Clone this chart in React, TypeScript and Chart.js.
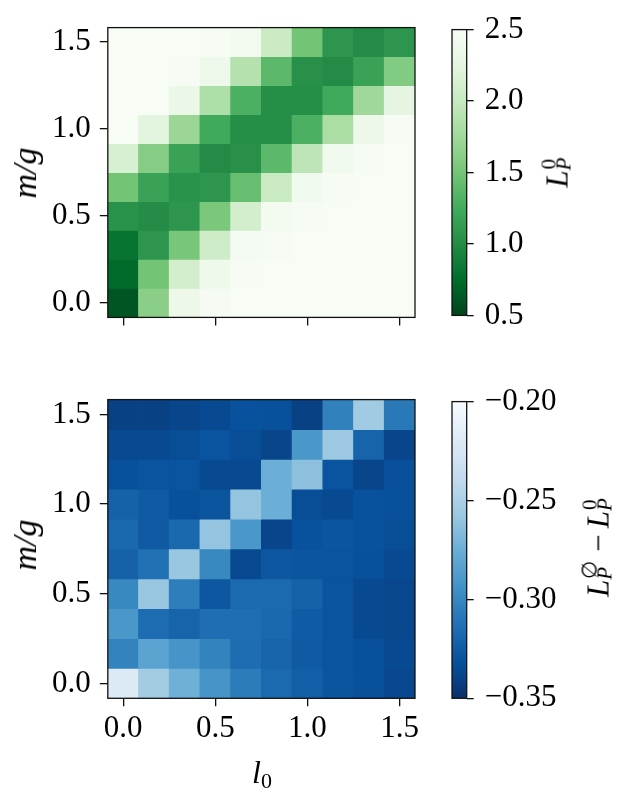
import React, { useEffect, useRef } from 'react';
import { Chart, registerables } from 'chart.js';

Chart.register(...registerables);

// ---- data ----
const l0Values = [0, 0.1667, 0.3333, 0.5, 0.6667, 0.8333, 1.0, 1.1667, 1.3333, 1.5];
const mgValues = [0, 0.1667, 0.3333, 0.5, 0.6667, 0.8333, 1.0, 1.1667, 1.3333, 1.5];
const axisTicks = [0, 0.5, 1.0, 1.5];
const lp0Ticks = [0.5, 1.0, 1.5, 2.0, 2.5];
const diffTicks = [-0.35, -0.3, -0.25, -0.2];

// rows: index 0 = m/g 0.0 (bottom) ... index 9 = m/g 1.5 (top); columns follow l0Values
const lp0Rows = [
  [0.61, 1.62, 2.36, 2.47, 2.5, 2.5, 2.5, 2.5, 2.5, 2.5],
  [0.74, 1.5, 2.1, 2.38, 2.48, 2.5, 2.5, 2.5, 2.5, 2.5],
  [0.81, 1.08, 1.52, 2.06, 2.46, 2.49, 2.5, 2.5, 2.5, 2.5],
  [1.06, 1.01, 1.08, 1.54, 2.1, 2.44, 2.49, 2.5, 2.5, 2.5],
  [1.5, 1.18, 1.06, 1.08, 1.44, 2.02, 2.42, 2.49, 2.5, 2.5],
  [2.14, 1.6, 1.18, 1.0, 1.04, 1.38, 1.94, 2.4, 2.49, 2.5],
  [2.5, 2.24, 1.72, 1.24, 1.02, 1.02, 1.3, 1.82, 2.36, 2.49],
  [2.5, 2.5, 2.34, 1.84, 1.3, 1.02, 1.02, 1.24, 1.74, 2.26],
  [2.5, 2.5, 2.49, 2.38, 1.88, 1.38, 1.04, 1.0, 1.18, 1.58],
  [2.5, 2.5, 2.5, 2.49, 2.45, 2.04, 1.5, 1.08, 1.0, 1.08],
];

const diffRows = [
  [-0.22, -0.254, -0.2735, -0.2915, -0.3065, -0.317, -0.323, -0.329, -0.332, -0.337],
  [-0.302, -0.2825, -0.2915, -0.302, -0.315, -0.32, -0.326, -0.33, -0.332, -0.335],
  [-0.29, -0.315, -0.32, -0.314, -0.314, -0.318, -0.325, -0.33, -0.335, -0.337],
  [-0.299, -0.258, -0.305, -0.328, -0.317, -0.317, -0.3215, -0.33, -0.335, -0.337],
  [-0.3215, -0.3125, -0.258, -0.299, -0.335, -0.328, -0.329, -0.33, -0.332, -0.335],
  [-0.318, -0.326, -0.318, -0.26, -0.29, -0.338, -0.331, -0.329, -0.331, -0.333],
  [-0.3215, -0.326, -0.332, -0.329, -0.26, -0.275, -0.333, -0.335, -0.331, -0.332],
  [-0.332, -0.33, -0.33, -0.335, -0.335, -0.275, -0.263, -0.33, -0.338, -0.332],
  [-0.335, -0.335, -0.333, -0.33, -0.333, -0.338, -0.29, -0.257, -0.32, -0.338],
  [-0.34, -0.34, -0.338, -0.335, -0.331, -0.332, -0.34, -0.3035, -0.2555, -0.308],
];

const GREENS = ['#f7fcf5', '#e5f5e0', '#c7e9c0', '#a1d99b', '#74c476', '#41ab5d', '#238b45', '#006d2c', '#00441b'];
const BLUES = ['#f7fbff', '#deebf7', '#c6dbef', '#9ecae1', '#6baed6', '#4292c6', '#2171b5', '#08519c', '#08306b'];

const FONT = "'Liberation Serif', 'Times New Roman', serif";
const FS = 31;

// reversed colormap: low value -> dark end
function makeColor(stops: string[], vmin: number, vmax: number) {
  const rgb = stops.map((h) => [parseInt(h.slice(1, 3), 16), parseInt(h.slice(3, 5), 16), parseInt(h.slice(5, 7), 16)]);
  return (v: number) => {
    let d = 1 - (v - vmin) / (vmax - vmin);
    d = Math.max(0, Math.min(1, d));
    const p = d * (rgb.length - 1);
    const i = Math.min(rgb.length - 2, Math.floor(p));
    const f = p - i;
    const c = rgb[i].map((a, k) => Math.round(a + (rgb[i + 1][k] - a) * f));
    return `rgb(${c[0]},${c[1]},${c[2]})`;
  };
}

const framePlugin = {
  id: 'frame',
  afterDraw(chart: any) {
    const { ctx, chartArea: a } = chart;
    ctx.save();
    ctx.strokeStyle = '#111';
    ctx.lineWidth = 1.3;
    ctx.strokeRect(a.left, a.top, a.right - a.left, a.bottom - a.top);
    ctx.restore();
  },
};

const tickGrid = (len: number) => ({
  display: true,
  drawOnChartArea: false,
  drawTicks: true,
  tickLength: len,
  color: '#111',
  lineWidth: 1.3,
  offset: false,
});

function heatConfig(
  rows: number[][],
  colorFn: (v: number) => string,
  padTop: number,
  padRight: number,
  leftWidth: number,
  bottomHeight: number,
  showXLabels: boolean
): any {
  const halfX = (l0Values[1] - l0Values[0]) / 2;
  const halfY = (mgValues[1] - mgValues[0]) / 2;
  const data: any[] = [];
  const colors: string[] = [];
  rows.forEach((row, j) =>
    row.forEach((v, i) => {
      data.push({ x: l0Values[i], y: [mgValues[j] - halfY, mgValues[j] + halfY] });
      colors.push(colorFn(v));
    })
  );
  return {
    type: 'bar',
    data: {
      datasets: [
        {
          data,
          backgroundColor: colors,
          borderWidth: 0,
          barPercentage: 1,
          categoryPercentage: 1,
          inflateAmount: 0.4,
        },
      ],
    },
    options: {
      animation: false,
      responsive: false,
      maintainAspectRatio: false,
      plugins: { legend: { display: false }, tooltip: { enabled: false } },
      layout: { padding: { top: padTop, right: padRight, left: 0, bottom: 0 } },
      scales: {
        x: {
          type: 'linear',
          min: l0Values[0] - halfX,
          max: l0Values[l0Values.length - 1] + halfX,
          offset: false,
          afterBuildTicks: (s: any) => {
            s.ticks = axisTicks.map((value) => ({ value }));
          },
          afterFit: (s: any) => {
            s.height = bottomHeight;
          },
          grid: tickGrid(8),
          border: { display: false },
          ticks: {
            display: showXLabels,
            autoSkip: false,
            maxRotation: 0,
            padding: 4,
            color: '#000',
            font: { family: FONT, size: FS },
            callback: (v: any) => Number(v).toFixed(1),
          },
        },
        y: {
          type: 'linear',
          min: mgValues[0] - halfY,
          max: mgValues[mgValues.length - 1] + halfY,
          afterBuildTicks: (s: any) => {
            s.ticks = axisTicks.map((value) => ({ value }));
          },
          afterFit: (s: any) => {
            s.width = leftWidth;
          },
          grid: tickGrid(8),
          border: { display: false },
          ticks: {
            padding: 9,
            color: '#000',
            font: { family: FONT, size: FS },
            callback: (v: any) => Number(v).toFixed(1),
          },
        },
      },
    },
    plugins: [framePlugin],
  };
}

function colorbarConfig(
  vmin: number,
  vmax: number,
  ticks: number[],
  digits: number,
  colorFn: (v: number) => string,
  padTop: number,
  padBottom: number,
  rightWidth: number
): any {
  return {
    type: 'bar',
    data: {
      labels: [''],
      datasets: [
        {
          data: [[vmin, vmax]],
          borderWidth: 0,
          barPercentage: 1,
          categoryPercentage: 1,
          inflateAmount: 0,
          backgroundColor: (ctx: any) => {
            const chart = ctx.chart;
            const y = chart.scales && chart.scales.y;
            if (!y) return colorFn((vmin + vmax) / 2);
            const y0 = y.getPixelForValue(vmin);
            const y1 = y.getPixelForValue(vmax);
            if (!isFinite(y0) || !isFinite(y1) || y0 === y1) return colorFn((vmin + vmax) / 2);
            const g = chart.ctx.createLinearGradient(0, y0, 0, y1);
            const n = 32;
            for (let k = 0; k <= n; k++) g.addColorStop(k / n, colorFn(vmin + ((vmax - vmin) * k) / n));
            return g;
          },
        },
      ],
    },
    options: {
      animation: false,
      responsive: false,
      maintainAspectRatio: false,
      plugins: { legend: { display: false }, tooltip: { enabled: false } },
      layout: { padding: { top: padTop, bottom: padBottom, left: 12, right: 0 } },
      scales: {
        x: { display: false },
        y: {
          position: 'right',
          min: vmin,
          max: vmax,
          afterBuildTicks: (s: any) => {
            s.ticks = ticks.map((value) => ({ value }));
          },
          afterFit: (s: any) => {
            s.width = rightWidth;
          },
          grid: tickGrid(7),
          border: { display: false },
          ticks: {
            padding: 11,
            color: '#000',
            font: { family: FONT, size: FS },
            callback: (v: any) => {
              const s = Math.abs(Number(v)).toFixed(digits);
              return Number(v) < 0 ? '\u2212' + s : s;
            },
          },
        },
      },
    },
    plugins: [framePlugin],
  };
}

function Scripts({ sup, width }: { sup: string; width: number }) {
  return (
    <span style={{ display: 'inline-block', position: 'relative', width, height: 1 }}>
      <span style={{ position: 'absolute', left: 1, bottom: 8, fontSize: 21, fontStyle: 'normal', lineHeight: 1 }}>{sup}</span>
      <span style={{ position: 'absolute', left: 0, bottom: -7, fontSize: 21, fontStyle: 'italic', lineHeight: 1 }}>P</span>
    </span>
  );
}

const rotStyle = (cx: number, cy: number): React.CSSProperties => ({
  position: 'absolute',
  left: cx,
  top: cy,
  transform: 'translate(-50%,-50%) rotate(-90deg)',
  whiteSpace: 'nowrap',
  fontFamily: FONT,
  fontSize: FS,
  lineHeight: 1,
  color: '#000',
});

export default function App() {
  const topRef = useRef<HTMLCanvasElement>(null);
  const botRef = useRef<HTMLCanvasElement>(null);
  const cbTopRef = useRef<HTMLCanvasElement>(null);
  const cbBotRef = useRef<HTMLCanvasElement>(null);

  useEffect(() => {
    const green = makeColor(GREENS, 0.5, 2.5);
    const blue = makeColor(BLUES, -0.35, -0.2);
    const charts: Chart[] = [];
    const add = (el: HTMLCanvasElement | null, cfg: any) => {
      if (!el) return;
      try {
        charts.push(new Chart(el, cfg));
      } catch (e) {
        console.error(e);
      }
    };
    add(topRef.current, heatConfig(lp0Rows, green, 19.5, 25, 107.8, 345 - 326.3, false));
    add(botRef.current, heatConfig(diffRows, blue, 19.5, 25, 107.8, 420 - 326.3, true));
    add(cbTopRef.current, colorbarConfig(0.5, 2.5, lp0Ticks, 1, green, 19.5, 345 - 326.3, 183 - 26.7));
    add(cbBotRef.current, colorbarConfig(-0.35, -0.2, diffTicks, 2, blue, 19.5, 420 - 326.3, 183 - 26.7));
    return () => charts.forEach((c) => c.destroy());
  }, []);

  return (
    <div style={{ position: 'fixed', left: 0, top: 0, width: 623, height: 792, background: '#fff', overflow: 'hidden' }}>
      <canvas ref={topRef} width={440} height={345} style={{ position: 'absolute', left: 0, top: 0, width: 440, height: 345 }} />
      <canvas ref={botRef} width={440} height={420} style={{ position: 'absolute', left: 0, top: 372, width: 440, height: 420 }} />
      <canvas ref={cbTopRef} width={183} height={345} style={{ position: 'absolute', left: 440, top: 0, width: 183, height: 345 }} />
      <canvas ref={cbBotRef} width={183} height={420} style={{ position: 'absolute', left: 440, top: 372, width: 183, height: 420 }} />

      <div style={{ ...rotStyle(25, 173), fontStyle: 'italic', fontSize: 34 }}>m/g</div>
      <div style={{ ...rotStyle(25, 545), fontStyle: 'italic', fontSize: 34 }}>m/g</div>

      <div style={{ position: 'absolute', left: 262, top: 756, transform: 'translateX(-50%)', fontFamily: FONT, fontSize: 32, lineHeight: 1, whiteSpace: 'nowrap' }}>
        <span style={{ fontStyle: 'italic' }}>l</span>
        <span style={{ fontSize: 22, position: 'relative', top: 5 }}>0</span>
      </div>

      <div style={rotStyle(557, 171)}>
        <span style={{ fontStyle: 'italic' }}>L</span>
        <Scripts sup="0" width={16} />
      </div>
      <div style={rotStyle(598, 546)}>
        <span style={{ fontStyle: 'italic' }}>L</span>
        <Scripts sup={'\u2205'} width={22} />
        <span style={{ padding: '0 6px' }}>{'\u2212'}</span>
        <span style={{ fontStyle: 'italic' }}>L</span>
        <Scripts sup="0" width={16} />
      </div>
    </div>
  );
}
